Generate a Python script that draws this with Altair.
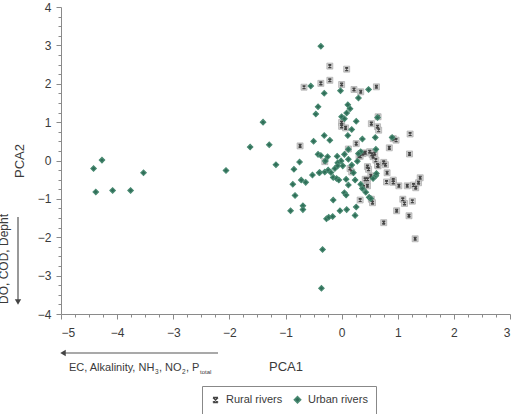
import altair as alt
import pandas as pd

rural_x = [-0.21, 0.09, -0.37, -0.21, -0.67, 0.00, 0.22, 0.34, 0.62,
           0.00, 0.00, 0.07, 0.53, 0.64, 0.66, 0.65,
           -0.74, 0.12, 0.26, 0.85, 0.92, 0.97, 1.22, 1.21,
           0.33, 0.42, 0.50, 0.54, 0.56, 0.61, 0.65, 0.75, 0.78,
           0.46, 0.48, 0.15, 0.18, 0.52, 0.42, 0.46, 0.81, 0.80, 0.92, 0.92,
           0.46, 0.39, 1.02, 1.17, 1.28, 1.32, 1.37, 1.40,
           0.53, 0.55, 0.33, 1.09, 1.12, 1.26, 0.98, 1.20, 0.75, 1.31,
           0.31, 0.38, 0.59, 0.64, -0.30]
rural_y = [2.46, 2.38, 2.01, 2.09, 1.91, 1.98, 1.85, 1.79, 1.92,
           0.99, 0.89, 0.85, 0.96, 0.88, 0.79, 1.14,
           0.38, 0.30, 0.44, 0.33, 0.57, 0.53, 0.69, 0.17,
           0.11, 0.20, 0.23, 0.16, 0.10, 0.01, -0.14, -0.05, -0.11,
           -0.16, -0.23, -0.21, -0.30, -0.40, -0.49, -0.49, -0.32, -0.56, -0.51, -0.57,
           -0.66, -0.69, -0.66, -0.66, -0.64, -0.71, -0.58, -0.45,
           -1.01, -1.10, -1.03, -1.01, -1.12, -1.06, -1.31, -1.44, -1.62, -2.04,
           0.12, 0.18, 0.18, -0.12, -0.03]

urban_x = [-0.37, -0.55, -0.31, -0.42, -0.46, -0.02, 0.48, 0.30, 0.11, 0.15,
           0.09, 0.00, 0.05, 0.26, 0.18, 0.64,
           -1.40, -1.63, -1.29, -1.17, -2.06,
           -4.42, -4.27, -4.38, -4.08, -3.76, -3.53,
           -0.31, -0.21, -0.50, 0.11, 0.37, 0.60, 0.90,
           -0.42, -0.37, -0.25, -0.29, -0.08, 0.05, 0.12, 0.34, 0.61,
           -0.01, 0.12, 0.28, 0.18, 0.02, -0.07,
           -0.75, -0.85, -0.52, -0.39, -0.30, -0.24, -0.19, -0.12, -0.07,
           -0.15, -0.09, -0.05, 0.08, -0.72, -0.64, -0.87,
           0.12, 0.05, 0.08, 0.34, 0.37, 0.43, 0.49, 0.61, 0.56, 0.62, 0.21,
           -0.83, -0.15, -0.69, -0.69, -0.91, -0.03, 0.09, 0.26, 0.24,
           -0.27, -0.23, -0.16, -0.34, -0.36, 0.30, -0.40, 0.24, 0.52]
urban_y = [2.98, 1.94, 1.75, 1.40, 1.21, 1.82, 1.85, 1.63, 1.45, 1.35,
           1.24, 1.14, 1.09, 1.02, 0.81, 1.12,
           1.00, 0.35, 0.41, -0.11, -0.26,
           -0.21, 0.01, -0.82, -0.78, -0.78, -0.32,
           0.65, 0.53, 0.50, 0.65, 0.56, 0.60, 0.60,
           0.16, 0.13, 0.10, -0.01, 0.11, 0.16, 0.29, 0.23, 0.29,
           -0.01, 0.03, -0.02, -0.12, -0.14, -0.06,
           -0.04, -0.23, -0.38, -0.31, -0.30, -0.25, -0.31, -0.21, -0.14,
           -0.44, -0.47, -0.51, -0.49, -0.51, -0.57, -0.62,
           -0.64, -0.84, -0.90, -0.62, -0.73, -0.83, -0.96, -0.40, -0.47, -0.34, -0.32,
           -0.91, -1.03, -1.18, -1.28, -1.31, -1.31, -1.28, -1.21, -1.43,
           -1.52, -1.48, -1.46, -2.32, -3.33, 0.18, -0.32, -0.51, -0.99]

x_major = [-5, -4, -3, -2, -1, 0, 1, 2, 3]
y_major = [-4, -3, -2, -1, 0, 1, 2, 3, 4]
x_minor = [v + q for v in x_major[:-1] for q in (0.25, 0.5, 0.75)]
y_minor = [v + q for v in y_major[:-1] for q in (0.25, 0.5, 0.75)]

FONT = "Liberation Sans, Arial, sans-serif"
AXC = "#8a8a8a"
TXT = "#3a3a3a"

pts = pd.DataFrame({
    "PCA1": rural_x + urban_x,
    "PCA2": rural_y + urban_y,
    "group": ["Rural rivers"] * len(rural_x) + ["Urban rivers"] * len(urban_x),
})
rural = pts[pts.group == "Rural rivers"]

xs = alt.Scale(domain=[-5, 3], nice=False, zero=False)
ys = alt.Scale(domain=[-4, 4], nice=False, zero=False)

x_axis = alt.Axis(values=x_major, tickCount=50, format="d", title="PCA1", grid=False,
                  tickSize=5, labelOverlap=False,
                  domainColor=AXC, tickColor=AXC, labelColor=TXT, labelFont=FONT,
                  labelFontSize=12, titleFont=FONT, titleFontSize=13,
                  titleFontWeight="normal", titleColor=TXT, titlePadding=22,
                  labelPadding=8, orient="bottom")
y_axis = alt.Axis(values=y_major, tickCount=50, format="d", title="PCA2", grid=False,
                  tickSize=5, labelOverlap=False,
                  domainColor=AXC, tickColor=AXC, labelColor=TXT, labelFont=FONT,
                  labelFontSize=12, titleFont=FONT, titleFontSize=13,
                  titleFontWeight="normal", titleColor=TXT, titlePadding=11,
                  labelPadding=5, orient="left")
minor_x_axis = alt.Axis(values=x_minor, tickCount=100, labels=False, title=None,
                        grid=False, tickSize=3, domain=False, tickColor=AXC, orient="bottom")
minor_y_axis = alt.Axis(values=y_minor, tickCount=100, labels=False, title=None,
                        grid=False, tickSize=3, domain=False, tickColor=AXC, orient="left")

bg = alt.Chart(rural).mark_square(size=36, fill="#d4d4d4", stroke="#a0a0a0",
                                  strokeWidth=0.6, opacity=1).encode(
    x=alt.X("PCA1:Q", scale=xs, axis=x_axis),
    y=alt.Y("PCA2:Q", scale=ys, axis=y_axis),
)

minor = alt.Chart(pts).mark_point(opacity=0).encode(
    x=alt.X("PCA1:Q", scale=xs, axis=minor_x_axis),
    y=alt.Y("PCA2:Q", scale=ys, axis=minor_y_axis),
)

STAR = "M-0.8,-0.8L0.8,0.8M-0.8,0.8L0.8,-0.8M-0.8,-0.8L0.8,-0.8M-0.8,0.8L0.8,0.8"
dom = ["Rural rivers", "Urban rivers"]
main = alt.Chart(pts).mark_point(filled=True, opacity=1, strokeWidth=1.1).encode(
    x=alt.X("PCA1:Q", scale=xs, axis=None),
    y=alt.Y("PCA2:Q", scale=ys, axis=None),
    shape=alt.Shape("group:N", scale=alt.Scale(domain=dom, range=[STAR, "diamond"]), title=None),
    fill=alt.Fill("group:N", scale=alt.Scale(domain=dom, range=["#444444", "#2f6e58"]), title=None),
    stroke=alt.Stroke("group:N", scale=alt.Scale(domain=dom, range=["#444444", "#4a8a72"]), title=None),
    size=alt.condition(alt.datum.group == "Rural rivers", alt.value(14), alt.value(30)),
)

one = pd.DataFrame({"k": [0]})

def label(txt, x, y, size=11, angle=0, align="left"):
    return alt.Chart(one).mark_text(text=txt, font=FONT, fontSize=size, color=TXT,
                                    align=align, baseline="middle", angle=angle).encode(
        x=alt.value(x), y=alt.value(y))

ann = [
    label("EC, Alkalinity, NH", 8, 361),
    label("3", 94, 365, size=6.5),
    label(", NO", 98, 361),
    label("2", 121, 365, size=6.5),
    label(", P", 125, 361),
    label("total", 139, 365, size=6),
    label("DO, COD, Depht", -57, 252, size=12, angle=270, align="center"),
    alt.Chart(one).mark_rule(color="#555555", strokeWidth=1.2).encode(
        x=alt.value(1), x2=alt.value(157), y=alt.value(346)),
    alt.Chart(one).mark_point(shape="triangle-left", filled=True, color="#444444",
                              size=40, opacity=1).encode(x=alt.value(2), y=alt.value(346)),
    alt.Chart(one).mark_rule(color="#555555", strokeWidth=1.2).encode(
        x=alt.value(-43), y=alt.value(210), y2=alt.value(294)),
    alt.Chart(one).mark_point(shape="triangle-down", filled=True, color="#444444",
                              size=40, opacity=1).encode(x=alt.value(-43), y=alt.value(295)),
]

chart = alt.layer(bg, minor, main, *ann).resolve_axis(
    x="independent", y="independent"
).properties(
    width=449, height=307,
    autosize=alt.AutoSizeParams(type="none"),
    padding={"left": 61, "top": 7, "right": 7, "bottom": 100},
).configure_view(stroke=None).configure_legend(
    orient="none", legendX=141, legendY=379, direction="horizontal",
    strokeColor="#888888", padding=8, labelFont=FONT, labelFontSize=11,
    labelColor=TXT, symbolSize=40, columnPadding=8, labelOffset=5,
    fillColor="white",
)

chart.save("out.html", embed_options={"renderer": "svg", "actions": False})
